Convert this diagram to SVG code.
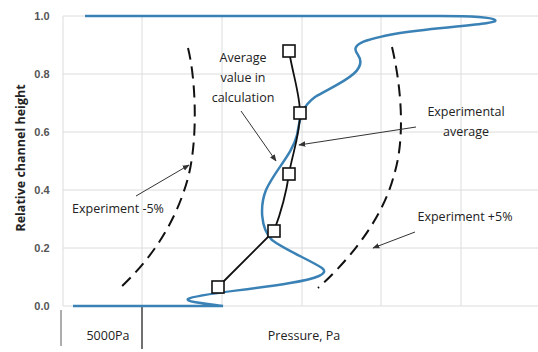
<svg xmlns="http://www.w3.org/2000/svg" width="538" height="352" viewBox="0 0 538 352">
<style>
.grid{stroke:#dcdcdc;stroke-width:1;fill:none}
.tick{font-family:"Liberation Sans",Arial,sans-serif;font-size:11px;font-weight:bold;fill:#555;text-anchor:middle}
.lbl{font-family:"Open Sans","Liberation Sans",sans-serif;font-size:12.5px;fill:#222;text-anchor:middle}
.ax{font-family:"Open Sans","Liberation Sans",sans-serif;font-size:12.5px;fill:#222}
.dash{fill:none;stroke:#111;stroke-width:2;stroke-dasharray:12 7}
.arr{fill:none;stroke:#333;stroke-width:1;marker-end:url(#ah)}
.sq{fill:#fff;stroke:#111;stroke-width:1.6}
</style>
<defs>
<marker id="ah" viewBox="0 0 10 10" refX="9" refY="5" markerWidth="7" markerHeight="7" orient="auto" markerUnits="userSpaceOnUse">
<path d="M0,1 L10,5 L0,9 z" fill="#333"/>
</marker>
</defs>
<rect width="538" height="352" fill="#fff"/>
<g id="grid">
<path class="grid" d="M63 16H538M63 74H538M63 132H538M63 190H538M63 248H538M63 306H538"/>
<path class="grid" d="M63 16V306M142 16V306M222 16V306M302 16V306M381 16V306M461 16V306"/>
</g>
<g id="axes">
<text class="tick" x="42" y="20">1.0</text>
<text class="tick" x="42" y="78">0.8</text>
<text class="tick" x="42" y="136">0.6</text>
<text class="tick" x="42" y="194">0.4</text>
<text class="tick" x="42" y="252">0.2</text>
<text class="tick" x="42" y="310">0.0</text>
<text class="ax" x="0" y="0" transform="translate(25,158) rotate(-90)" text-anchor="middle" font-weight="bold" fill="#444">Relative channel height</text>
<line x1="61" y1="310" x2="61" y2="346" stroke="#777" stroke-width="1.2"/>
<line x1="142" y1="306" x2="142" y2="349" stroke="#111" stroke-width="1.2"/>
<text class="ax" x="108" y="340" text-anchor="middle">5000Pa</text>
<text class="ax" x="304" y="340" text-anchor="middle">Pressure, Pa</text>
</g>
<g id="connectors">
<path id="calc" d="M73 306 L223 306 C210 304 185 302 188 299 C195 294 250 290 290 283 C315 279 330 274 322 268 C310 260 285 250 272 240 C260 228 260 205 266 190 C275 170 292 155 297 135 C300 120 300 108 315 97 C335 85 370 72 358 55 C350 45 360 40 400 33 C450 26 500 24 495 20 C490 16 460 16 440 16 L85 16" fill="none" stroke="#3a82b5" stroke-width="2.5"/>
<path id="exp" d="M289 51 C293 75 300 95 300 113 C300 135 292 155 289 174 C286 195 280 215 274 231 L218 287" fill="none" stroke="#111" stroke-width="1.8"/>
<path class="dash" d="M188 48 C196 80 198 140 188 178 C175 225 150 260 120 288"/>
<path class="dash" d="M392 47 C402 90 405 140 394 175 C385 210 360 250 318 288"/>
<path class="arr" d="M241 111 L276 161"/>
<path class="arr" d="M416 127 L299 145"/>
<path class="arr" d="M136 196 L189 165"/>
<path class="arr" d="M415 232 L373 248"/>
</g>
<g id="squares">
<rect class="sq" x="283" y="45" width="12" height="12"/>
<rect class="sq" x="294" y="107" width="12" height="12"/>
<rect class="sq" x="283" y="168" width="12" height="12"/>
<rect class="sq" x="268" y="225" width="12" height="12"/>
<rect class="sq" x="212" y="281" width="12" height="12"/>
</g>
<g id="labels">
<text class="lbl" x="243" y="62">Average</text>
<text class="lbl" x="243" y="82">value in</text>
<text class="lbl" x="243" y="102">calculation</text>
<text class="lbl" x="466" y="116">Experimental</text>
<text class="lbl" x="466" y="136">average</text>
<text class="lbl" x="118" y="213">Experiment -5%</text>
<text class="lbl" x="465" y="221">Experiment +5%</text>
</g>
</svg>
